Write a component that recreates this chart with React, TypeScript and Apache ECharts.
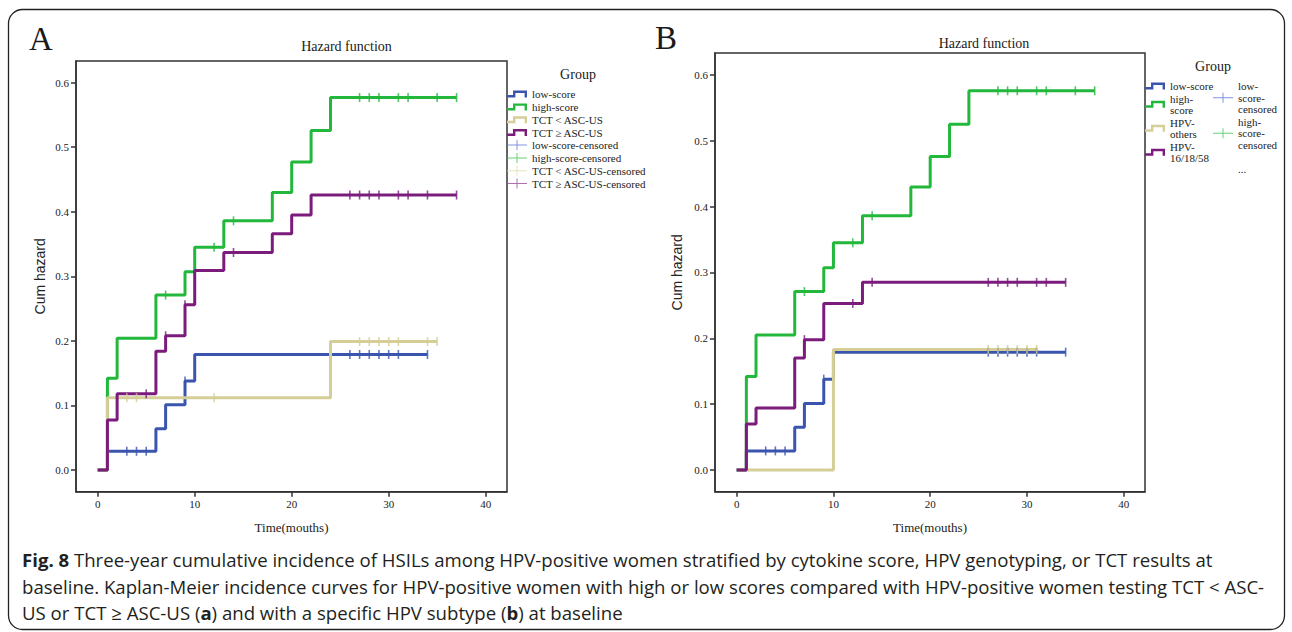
import React, { useEffect, useRef } from "react";
import * as echarts from "echarts";

// ---------- data ----------
const X_TICKS = [0, 10, 20, 30, 40];
const Y_TICKS = [0, 0.1, 0.2, 0.3, 0.4, 0.5, 0.6];

// Panel A: [time, cumulative hazard]
const lowScoreA = [[0, 0], [1, 0.029], [6, 0.064], [7, 0.101], [9, 0.138], [10, 0.179], [34, 0.179]];
const highScoreA = [[0, 0], [1, 0.142], [2, 0.204], [6, 0.271], [9, 0.307], [10, 0.345], [13, 0.386], [18, 0.43], [20, 0.477], [22, 0.526], [24, 0.577], [37, 0.577]];
const tctLowA = [[0, 0], [1, 0.112], [24, 0.199], [35, 0.199]];
const tctHighA = [[0, 0], [1, 0.0775], [2, 0.118], [6, 0.184], [7, 0.208], [9, 0.256], [10, 0.309], [13, 0.337], [18, 0.366], [20, 0.395], [22, 0.426], [37, 0.426]];

const lowScoreCensA = [[3, 0.029], [4, 0.029], [5, 0.029], [9, 0.138], [26, 0.179], [27, 0.179], [28, 0.179], [29, 0.179], [30, 0.179], [31, 0.179], [34, 0.179]];
const highScoreCensA = [[7, 0.271], [12, 0.345], [14, 0.386], [27, 0.577], [28, 0.577], [29, 0.577], [31, 0.577], [32, 0.577], [35, 0.577], [37, 0.577]];
const tctLowCensA = [[3, 0.112], [4, 0.112], [12, 0.112], [27, 0.199], [28, 0.199], [29, 0.199], [30, 0.199], [31, 0.199], [34, 0.199], [35, 0.199]];
const tctHighCensA = [[5, 0.118], [7, 0.208], [9, 0.256], [14, 0.337], [26, 0.426], [27, 0.426], [28, 0.426], [29, 0.426], [31, 0.426], [32, 0.426], [34, 0.426], [37, 0.426]];

// Panel B
const lowScoreB = [[0, 0], [1, 0.029], [6, 0.065], [7, 0.101], [9, 0.138], [10, 0.179], [34, 0.179]];
const highScoreB = [[0, 0], [1, 0.142], [2, 0.205], [6, 0.271], [9, 0.307], [10, 0.345], [13, 0.386], [18, 0.43], [20, 0.476], [22, 0.525], [24, 0.576], [37, 0.576]];
const hpvOthersB = [[0, 0], [10, 0.183], [31, 0.183]];
const hpv161858B = [[0, 0], [1, 0.07], [2, 0.094], [6, 0.17], [7, 0.198], [9, 0.253], [13, 0.285], [34, 0.285]];

const lowScoreCensB = [[3, 0.029], [4, 0.029], [5, 0.029], [9, 0.138], [26, 0.179], [27, 0.179], [28, 0.179], [29, 0.179], [30, 0.179], [31, 0.179], [34, 0.179]];
const highScoreCensB = [[7, 0.271], [12, 0.345], [14, 0.386], [27, 0.576], [28, 0.576], [29, 0.576], [31, 0.576], [32, 0.576], [35, 0.576], [37, 0.576]];
const hpvOthersCensB = [[26, 0.183], [27, 0.183], [28, 0.183], [29, 0.183], [30, 0.183], [31, 0.183]];
const hpv161858CensB = [[7, 0.198], [12, 0.253], [14, 0.285], [26, 0.285], [27, 0.285], [28, 0.285], [29, 0.285], [31, 0.285], [32, 0.285], [34, 0.285]];

const NAMES_A = ["low-score", "high-score", "TCT < ASC-US", "TCT \u2265 ASC-US"];
const NAMES_B = ["low-score", "high-score", "HPV-others", "HPV-16/18/58"];

const COLORS = ["#3a55ae", "#22b83b", "#d5ce96", "#7b1c7d"];
const CENS_COLORS = ["#5f7bd4", "#3fc850", "#e2dcae", "#9a4a9c"];

// ---------- styles ----------
const SERIF = "'Liberation Serif', 'DejaVu Serif', serif";
const SANS = "'Liberation Sans', Arial, sans-serif";
const CAP_FONT = "'Open Sans', 'Noto Sans', sans-serif";
const AX = "#333";
const STEP_ICON = "path://M0,4.5L6,4.5L6,0L20,0L20,7L17.6,7L17.6,2.4L8.4,2.4L8.4,7L0,7Z";
const CENS_ICON = "path://M0,4.5L9.5,4.5L9.5,0L10.5,0L10.5,4.5L20,4.5L20,5.5L10.5,5.5L10.5,10L9.5,10L9.5,5.5L0,5.5Z";

function xAxisFor(gridIndex: number) {
  return {
    gridIndex,
    type: "value",
    min: -2.24,
    max: 42.2,
    name: "Time(mouths)",
    nameLocation: "middle",
    nameGap: 29,
    nameTextStyle: { fontFamily: SERIF, fontSize: 13, color: "#222" },
    axisLine: { show: true, onZero: false, lineStyle: { color: AX, width: 1.5 } },
    axisTick: { show: true, customValues: X_TICKS, length: 5, lineStyle: { color: AX, width: 1.5 } },
    axisLabel: { customValues: X_TICKS, margin: 7, fontFamily: SERIF, fontSize: 11, color: "#1a1a1a", formatter: (v: number) => String(v) },
    splitLine: { show: false },
  };
}

function yAxisFor(gridIndex: number, min: number, max: number, nameGap: number) {
  return {
    gridIndex,
    type: "value",
    min,
    max,
    name: "Cum hazard",
    nameLocation: "middle",
    nameGap,
    nameRotate: 90,
    nameTextStyle: { fontFamily: SANS, fontSize: 14, color: "#222" },
    axisLine: { show: true, onZero: false, lineStyle: { color: AX, width: 1.5 } },
    axisTick: { show: true, customValues: Y_TICKS, length: 5, lineStyle: { color: AX, width: 1.5 } },
    axisLabel: { customValues: Y_TICKS, margin: 7, fontFamily: SERIF, fontSize: 11, color: "#1a1a1a", formatter: (v: number) => v.toFixed(1) },
    splitLine: { show: false },
  };
}

function stepSeries(name: string, data: number[][], color: string, idx: number) {
  return {
    type: "line",
    name,
    data,
    step: "end",
    xAxisIndex: idx,
    yAxisIndex: idx,
    showSymbol: false,
    symbol: "none",
    color,
    lineStyle: { color, width: 3 },
    emphasis: { disabled: true },
    z: 2,
  };
}

function censSeries(name: string, data: number[][], color: string, idx: number) {
  return {
    type: "scatter",
    name,
    data,
    xAxisIndex: idx,
    yAxisIndex: idx,
    symbol: "rect",
    symbolSize: [1.6, 9],
    color,
    itemStyle: { color },
    emphasis: { disabled: true },
    z: 3,
  };
}

function txt(text: string, x: number, y: number, font: string, align = "center", fill = "#1a1a1a") {
  return {
    type: "text",
    style: { text, x, y, font, fill, align, verticalAlign: "middle", textAlign: align, textVerticalAlign: "middle" },
    silent: true,
  };
}

const CAP_SIZE = 18.6;
function captionLine(text: string, y: number) {
  return {
    type: "text",
    silent: true,
    style: {
      text,
      x: 22,
      y,
      fill: "#231f20",
      fontFamily: CAP_FONT,
      fontSize: CAP_SIZE,
      verticalAlign: "middle",
      textVerticalAlign: "middle",
      rich: { b: { fontWeight: "bold", fontFamily: CAP_FONT, fontSize: CAP_SIZE, fill: "#231f20" } },
    },
  };
}

export default function App() {
  const ref = useRef<HTMLDivElement>(null);

  useEffect(() => {
    if (!ref.current) return;
    const chart = echarts.init(ref.current, undefined, { renderer: "svg" });

    const linesA = [lowScoreA, highScoreA, tctLowA, tctHighA];
    const censA = [lowScoreCensA, highScoreCensA, tctLowCensA, tctHighCensA];
    const linesB = [lowScoreB, highScoreB, hpvOthersB, hpv161858B];
    const censB = [lowScoreCensB, highScoreCensB, hpvOthersCensB, hpv161858CensB];

    const series: any[] = [];
    linesA.forEach((d, i) => series.push(stepSeries(NAMES_A[i], d, COLORS[i], 0)));
    censA.forEach((d, i) => series.push(censSeries(NAMES_A[i] + "-censored", d, COLORS[i], 0)));
    linesB.forEach((d, i) => series.push(stepSeries(NAMES_B[i], d, COLORS[i], 1)));
    censB.forEach((d, i) => series.push(censSeries(NAMES_B[i] + "-censored", d, COLORS[i], 1)));

    const legendText = { fontFamily: SERIF, fontSize: 11, color: "#222" };
    const wrapB: Record<string, string> = {
      "low-score": "low-score",
      "high-score": "high-\nscore",
      "HPV-others": "HPV-\nothers",
      "HPV-16/18/58": "HPV-\n16/18/58",
      "low-score-censored": "low-\nscore-\ncensored",
      "high-score-censored": "high-\nscore-\ncensored",
    };

    const option: any = {
      animation: false,
      backgroundColor: "#ffffff",
      grid: [
        { left: 76, top: 61, width: 431, height: 430.7, show: true, borderColor: AX, borderWidth: 1.5, backgroundColor: "transparent" },
        { left: 715, top: 53, width: 430, height: 438.7, show: true, borderColor: AX, borderWidth: 1.5, backgroundColor: "transparent" },
      ],
      xAxis: [xAxisFor(0), xAxisFor(1)],
      yAxis: [yAxisFor(0, -0.0336, 0.6336, 29), yAxisFor(1, -0.033, 0.6334, 31)],
      legend: [
        {
          orient: "vertical", left: 507, top: 87.6, padding: 0, itemGap: 0, itemWidth: 20, itemHeight: 7,
          selectedMode: false, textStyle: { ...legendText, lineHeight: 12.85 }, itemStyle: { borderWidth: 0 },
          data: NAMES_A.map((n, i) => ({ name: n, icon: STEP_ICON, itemStyle: { color: COLORS[i], borderWidth: 0 } })),
        },
        {
          orient: "vertical", left: 507, top: 138.6, padding: 0, itemGap: 0, itemWidth: 20, itemHeight: 10,
          selectedMode: false, textStyle: { ...legendText, lineHeight: 12.85 }, itemStyle: { borderWidth: 0 },
          data: NAMES_A.map((n, i) => ({ name: n + "-censored", icon: CENS_ICON, itemStyle: { color: CENS_COLORS[i], borderWidth: 0 } })),
        },
        {
          orient: "vertical", left: 1145, top: 80.25, padding: 0, itemGap: 1, itemWidth: 20, itemHeight: 7,
          selectedMode: false, textStyle: { ...legendText, lineHeight: 11.5 }, itemStyle: { borderWidth: 0 },
          formatter: (n: string) => wrapB[n] ?? n,
          data: NAMES_B.map((n, i) => ({ name: n, icon: STEP_ICON, itemStyle: { color: COLORS[i], borderWidth: 0 } })),
        },
        {
          orient: "vertical", left: 1213, top: 80.45, padding: 0, itemGap: 1, itemWidth: 20, itemHeight: 10,
          selectedMode: false, textStyle: { ...legendText, lineHeight: 11.5 }, itemStyle: { borderWidth: 0 },
          formatter: (n: string) => wrapB[n] ?? n,
          data: ["low-score-censored", "high-score-censored"].map((n, i) => ({ name: n, icon: CENS_ICON, itemStyle: { color: CENS_COLORS[i], borderWidth: 0 } })),
        },
      ],
      graphic: [
        {
          type: "rect",
          silent: true,
          shape: { x: 8.5, y: 9.5, width: 1276, height: 620, r: 14 },
          style: { fill: "none", stroke: "#222", lineWidth: 1.3 },
        },
        txt("A", 41, 39, `33px ${SERIF}`),
        txt("B", 666, 38, `33px ${SERIF}`),
        txt("Hazard function", 346.5, 46.7, `14px ${SERIF}`),
        txt("Hazard function", 984, 43, `14px ${SERIF}`),
        txt("Group", 578, 74, `14px ${SERIF}`),
        txt("Group", 1213, 66, `14px ${SERIF}`),
        txt("...", 1238, 169, `11px ${SERIF}`, "left"),
        captionLine("{b|Fig. 8} Three-year cumulative incidence of HSILs among HPV-positive women stratified by cytokine score, HPV genotyping, or TCT results at", 559),
        captionLine("baseline. Kaplan-Meier incidence curves for HPV-positive women with high or low scores compared with HPV-positive women testing TCT < ASC-", 586),
        captionLine("US or TCT \u2265 ASC-US ({b|a}) and with a specific HPV subtype ({b|b}) at baseline", 612),
      ],
      series,
    };

    chart.setOption(option);
    return () => chart.dispose();
  }, []);

  return (
    <div
      ref={ref}
      style={{ position: "absolute", left: 0, top: 0, width: 1292, height: 632, background: "#fff" }}
    />
  );
}
